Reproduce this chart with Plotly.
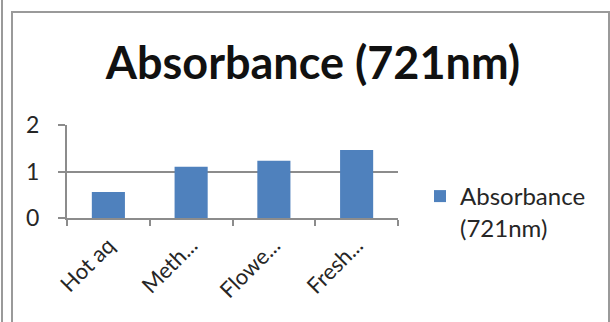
import plotly.graph_objects as go

# Absorbance readings at 721 nm for each extract
categories = ["Hot aq", "Meth...", "Flowe...", "Fresh..."]
absorbance = [0.56, 1.10, 1.23, 1.46]
series_name = "Absorbance<br>(721nm)"
y_ticks = [0, 1, 2]

W, H = 610, 322
L, R, T, B = 67, 212, 125, 104
pw, ph = W - L - R, H - T - B


def px_x(p):
    return (p - L) / pw


def px_y(p):
    return (H - B - p) / ph


fig = go.Figure()
fig.add_trace(go.Bar(
    x=categories, y=absorbance, name=series_name,
    marker=dict(color="#4F81BD", line=dict(width=0)),
    width=0.4, showlegend=True,
))

grid = "#8c8c8c"
fig.update_layout(
    width=W, height=H,
    margin=dict(l=L, r=R, t=T, b=B),
    paper_bgcolor="white", plot_bgcolor="white",
    font=dict(family="Lato, 'Open Sans', sans-serif", color="#262626"),
    title=dict(text="<b>Absorbance (721nm)</b>", x=px_x(313), xref="paper",
               xanchor="center", y=1 - 63 / H, yanchor="middle",
               font=dict(size=45, color="#111111")),
    xaxis=dict(showgrid=False, showline=True, linecolor=grid, linewidth=2,
               ticks="outside", ticklen=6, tickcolor=grid, tickwidth=2,
               tickson="boundaries", tickangle=-45, ticklabelstandoff=4,
               tickfont=dict(size=22, color="#262626")),
    yaxis=dict(range=[0, 2], tickvals=y_ticks, showgrid=True, gridcolor=grid,
               gridwidth=2, showline=True, linecolor=grid, linewidth=2,
               ticks="outside", ticklen=7, tickcolor=grid, tickwidth=2,
               ticklabelstandoff=14,
               zeroline=False, tickfont=dict(size=23, color="#262626")),
    legend=dict(x=px_x(420), y=px_y(174), xanchor="left", yanchor="top",
                valign="top", font=dict(size=24, color="#262626"),
                itemwidth=30, bgcolor="rgba(0,0,0,0)"),
    bargap=0.6,
)

# chart frame
fig.add_shape(type="rect", xref="paper", yref="paper",
              x0=px_x(12), x1=px_x(609), y0=px_y(340), y1=px_y(12),
              line=dict(color="#9a9a9a", width=2), layer="below")
fig.add_shape(type="line", xref="paper", yref="paper",
              x0=px_x(2), x1=px_x(2), y0=px_y(0), y1=px_y(322),
              line=dict(color="#9a9a9a", width=2), layer="below")

fig.write_html("out.html")
